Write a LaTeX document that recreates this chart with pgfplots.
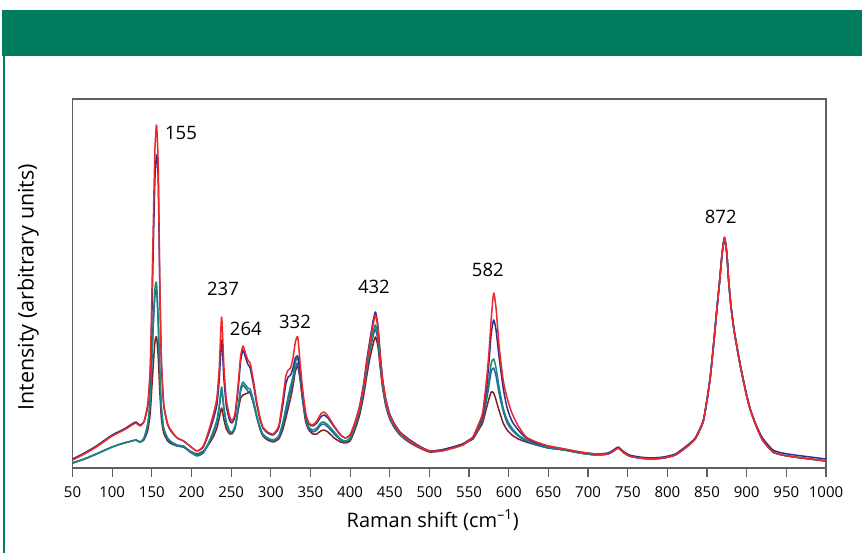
\documentclass[border=0pt]{standalone}
\usepackage{pgfplots}
\pgfplotsset{compat=1.18}
\usepackage{pgfplotstable}
\usepackage{fontspec}
\setmainfont{Open Sans}
\definecolor{hdrgreen}{RGB}{0,125,94}
\definecolor{cR}{RGB}{238,40,40}
\definecolor{cN}{RGB}{46,49,146}
\definecolor{cT}{RGB}{20,140,125}
\definecolor{cB}{RGB}{45,95,170}
\definecolor{cM}{RGB}{125,35,35}
\definecolor{framegray}{RGB}{95,95,95}

\pgfplotstableread{
x R N T B M
50 8 9 5 5 5
65 14 15 9 9 9
80 21 22 14 14 14
100 32 33 21 21 21
115 38 39 25 25 25
125 43 44 27 27 27
130 45 46 28 28 28
135 42 43 26 26 26
140 46 46 30 29 28
145 65 62 45 43 38
148 101 95 70 67 55
150 170 150 110 105 80
152 250 225 150 144 105
154 320 290 180 173 127
156 343 313 185 178 131
158 305 290 150 145 112
160 190 185 100 97 78
162 110 108 62 60 50
165 65 63 40 39 35
170 44 43 30 29 27
175 37 36 26 25 24
182 30 30 23 22 22
190 27 27 22 21 21
198 22 22 17 16 17
207 17 17 13 12 14
215 22 21 16 15 17
222 38 35 26 25 24
228 55 50 38 36 32
232 70 63 48 46 40
235 100 88 62 60 50
238 151 128 81 78 60
241 100 88 60 58 48
244 68 62 46 44 39
248 52 48 37 36 34
251 47 45 36 35 34
255 55 52 42 40 40
259 85 80 62 60 58
262 112 107 80 77 70
265 122 118 86 83 73
268 115 111 83 80 74
271 108 104 80 77 75
274 105 100 79 76 75
278 88 84 68 66 65
282 68 65 54 52 52
286 52 50 42 41 40
290 41 40 34 33 32
296 36 35 30 29 28
303 34 33 28 27 26
310 42 40 32 31 29
315 68 62 45 42 38
319 92 84 60 55 50
322 98 91 72 67 60
325 100 93 82 77 70
328 110 100 92 87 82
331 126 110 106 100 97
334 131 112 110 105 102
337 105 97 95 90 88
340 80 76 72 70 68
344 55 53 50 48 46
348 45 44 41 40 38
353 43 42 38 36 34
358 47 45 40 38 34
363 54 51 45 43 37
367 56 53 46 44 38
372 52 50 43 41 36
380 42 41 36 34 30
388 33 33 29 28 26
394 30 30 27 26 25
400 33 33 30 29 27
406 45 45 42 41 38
412 61 62 58 57 53
417 82 84 79 77 72
421 105 108 101 98 92
425 125 128 120 117 110
429 143 147 136 132 124
432 153 156 143 139 131
435 140 143 132 128 122
438 112 114 106 104 100
441 88 89 84 82 80
445 68 69 65 64 62
450 53 54 51 50 49
456 43 44 42 41 40
463 35 36 34 33 33
472 29 30 28 28 27
485 22 23 22 22 21
500 17 17 17 17 16
515 17 18 18 18 17
530 20 21 21 21 20
542 23 24 24 24 23
550 28 28 28 28 27
555 31 31 31 30 29
561 42 41 40 39 37
567 55 52 50 48 45
572 88 80 72 68 60
575 115 105 88 82 69
578 150 135 105 97 76
581 175 148 109 100 75
584 160 138 100 92 68
588 121 110 80 74 57
593 88 80 60 57 45
598 70 60 48 45 38
604 55 47 40 38 33
612 42 38 33 32 29
622 31 30 28 27 26
635 26 25 24 23 23
650 22 22 21 20 20
670 19 19 18 18 18
690 16 16 15 15 15
710 14 14 13 13 13
725 14 15 14 14 14
732 17 18 17 17 17
738 20 21 20 20 20
744 16 17 16 16 16
752 12 13 12 12 12
765 10 11 10 10 10
780 9 10 9 9 9
795 10 11 10 10 10
810 13 14 13 13 13
824 21 22 21 21 21
835 29 30 29 29 29
845 46 47 46 46 46
850 68 69 68 68 68
854 90 91 90 90 90
858 121 122 121 121 121
862 155 156 155 155 155
866 188 188 188 188 188
869 215 214 214 214 214
872 231 230 230 230 230
875 215 214 214 214 214
877 190 190 190 190 190
880 163 163 163 163 163
884 138 139 138 138 138
889 115 116 115 115 115
893 98 99 98 98 98
900 72 73 72 72 72
905 57 58 57 57 57
912 42 43 42 42 42
920 28 30 28 28 28
933 16 18 16 16 16
945 13 15 13 13 13
960 11 13 11 11 11
980 9 11 9 9 9
1000 7 9 7 7 7
}\spectra

\begin{document}
\begin{tikzpicture}[x=1pt,y=1pt]
\useasboundingbox (0,0) rectangle (862,553);
\fill[hdrgreen] (2,497.3) rectangle (862,543);
\draw[hdrgreen, line width=1.5pt] (3.8,0) -- (3.8,497.3);
\begin{axis}[
  scale only axis,
  width=753.5pt, height=369pt,
  at={(72.5pt,85pt)}, anchor=south west,
  xmin=50, xmax=1000, ymin=0, ymax=369,
  xtick={50,100,...,1000},
  ytick=\empty,
  xtick pos=lower,
  tick align=outside,
  major tick length=9pt,
  tick style={framegray, line width=1.2pt},
  axis line style={framegray, line width=1.5pt},
  /pgf/number format/assume math mode=true,
  /pgf/number format/1000 sep={},
  xticklabel style={font=\fontsize{15}{18}\selectfont, text=black, yshift=-6pt},
  xlabel={Raman shift (cm\textsuperscript{–1})},
  ylabel={Intensity (arbitrary units)},
  xlabel style={font=\fontsize{20}{24}\selectfont, at={(axis description cs:0.478,0)}, anchor=center, yshift=-52pt},
  ylabel style={font=\fontsize{21.5}{25}\selectfont, at={(axis description cs:0,0.49)}, anchor=center, yshift=44.5pt},
  clip=true,
  every axis plot/.append style={line width=1.5pt, line join=round, smooth, tension=0.35},
]
\addplot[cM] table[x=x,y=M] {\spectra};
\addplot[cB] table[x=x,y=B] {\spectra};
\addplot[cT] table[x=x,y=T] {\spectra};
\addplot[cN] table[x=x,y=N] {\spectra};
\addplot[cR] table[x=x,y=R] {\spectra};
\begin{scope}[every node/.style={font=\fontsize{18.5}{22}\selectfont, text=black, anchor=center}]
\node at (axis cs:186.8,335) {155};
\node at (axis cs:239.7,179) {237};
\node at (axis cs:268.5,139) {264};
\node at (axis cs:330.5,146) {332};
\node at (axis cs:430,181) {432};
\node at (axis cs:573.6,198) {582};
\node at (axis cs:867.3,251) {872};
\end{scope}
\end{axis}
\end{tikzpicture}
\end{document}
